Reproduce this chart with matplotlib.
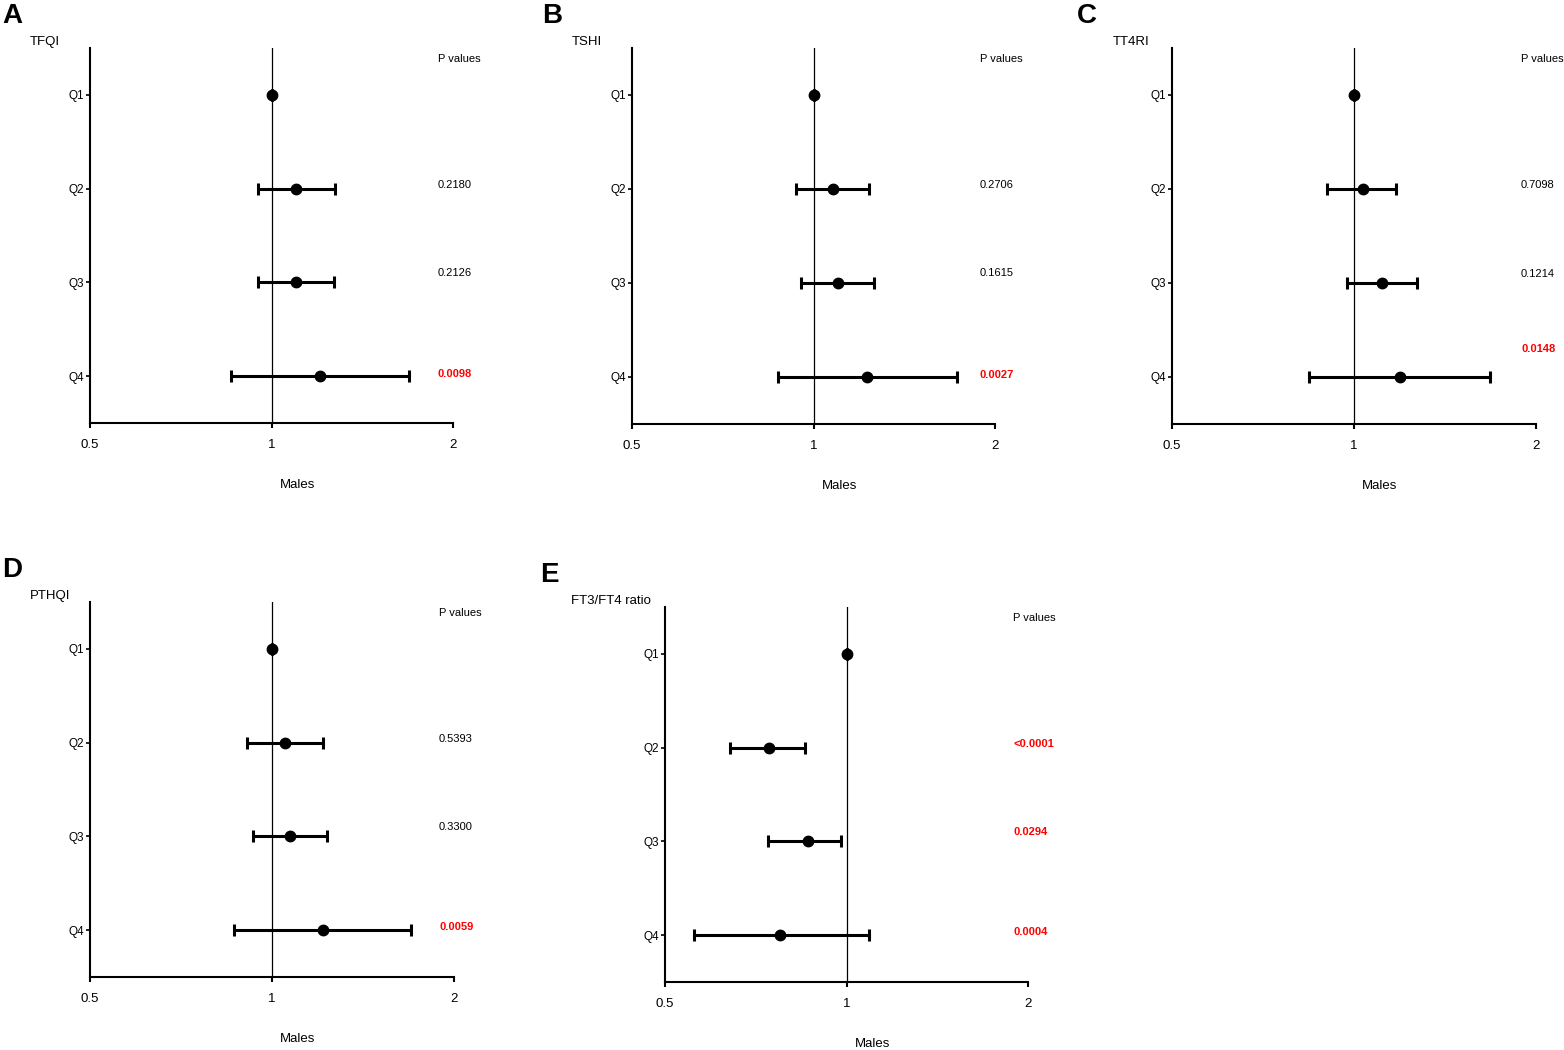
import matplotlib
matplotlib.use("Agg")
import matplotlib.pyplot as plt
from matplotlib.ticker import FixedLocator, NullLocator

plt.rcParams["font.family"] = ["Liberation Sans", "DejaVu Sans"]

quartiles = ["Q1", "Q2", "Q3", "Q4"]

# odds ratio with 95% CI, males
tfqi_or = [1.0, 1.096, 1.096, 1.205]
tfqi_lo = [1.0, 0.948, 0.948, 0.856]
tfqi_hi = [1.0, 1.276, 1.270, 1.690]
tfqi_p = ["", "0.2180", "0.2126", "0.0098"]

tshi_or = [1.0, 1.079, 1.096, 1.228]
tshi_lo = [1.0, 0.937, 0.955, 0.872]
tshi_hi = [1.0, 1.238, 1.260, 1.730]
tshi_p = ["", "0.2706", "0.1615", "0.0027"]

tt4ri_or = [1.0, 1.035, 1.112, 1.191]
tt4ri_lo = [1.0, 0.902, 0.973, 0.843]
tt4ri_hi = [1.0, 1.173, 1.271, 1.678]
tt4ri_p = ["", "0.7098", "0.1214", "0.0148"]

pthqi_or = [1.0, 1.050, 1.071, 1.214]
pthqi_lo = [1.0, 0.909, 0.930, 0.865]
pthqi_hi = [1.0, 1.214, 1.233, 1.700]
pthqi_p = ["", "0.5393", "0.3300", "0.0059"]

ratio_or = [1.0, 0.743, 0.862, 0.777]
ratio_lo = [1.0, 0.641, 0.740, 0.558]
ratio_hi = [1.0, 0.852, 0.981, 1.090]
ratio_p = ["", "<0.0001", "0.0294", "0.0004"]

W, H = 1564, 1050

# letter, title, data, axes box in px (left, top, right, bottom), title x, letter x, p-text y nudges
panels = [
    ("A", "TFQI", tfqi_or, tfqi_lo, tfqi_hi, tfqi_p, (90, 48, 453, 423), 30, 2, [0, -0.04, -0.10, -0.02]),
    ("B", "TSHI", tshi_or, tshi_lo, tshi_hi, tshi_p, (632, 48, 995, 424), 572, 542, [0, -0.04, -0.11, -0.02]),
    ("C", "TT4RI", tt4ri_or, tt4ri_lo, tt4ri_hi, tt4ri_p, (1172, 48, 1536, 424), 1113, 1077, [0, -0.04, -0.10, -0.30]),
    ("D", "PTHQI", pthqi_or, pthqi_lo, pthqi_hi, pthqi_p, (90, 602, 454, 977), 30, 2, [0, -0.04, -0.10, -0.03]),
    ("E", "FT3/FT4 ratio", ratio_or, ratio_lo, ratio_hi, ratio_p, (665, 607, 1028, 982), 571, 540, [0, -0.04, -0.10, -0.03]),
]

fig = plt.figure(figsize=(W / 100, H / 100), dpi=100)

for letter, title, orr, lo, hi, pv, box, tx, lx, nudge in panels:
    l, t, r, b = box
    ax = fig.add_axes([l / W, 1 - b / H, (r - l) / W, (b - t) / H])
    ypos = list(range(1, len(quartiles) + 1))
    xerr = [[o - a for o, a in zip(orr, lo)], [c - o for o, c in zip(orr, hi)]]
    ax.axvline(1, color="black", lw=0.9, zorder=1)
    ax.errorbar(orr, ypos, xerr=xerr, fmt="o", color="black", ms=7.5,
                elinewidth=2.2, capsize=4.3, capthick=2.2, zorder=3)
    ax.set_xscale("log", base=2)
    ax.set_xlim(0.5, 2)
    ax.set_ylim(4.5, 0.5)
    ax.xaxis.set_major_locator(FixedLocator([0.5, 1, 2]))
    ax.xaxis.set_minor_locator(NullLocator())
    ax.set_xticklabels(["0.5", "1", "2"])
    ax.set_yticks(ypos)
    ax.set_yticklabels(quartiles)
    for s in ["top", "right"]:
        ax.spines[s].set_visible(False)
    for s in ["left", "bottom"]:
        ax.spines[s].set_linewidth(1.5)
    ax.tick_params(axis="x", length=3.6, width=1.5, labelsize=9.5, pad=8)
    ax.tick_params(axis="y", length=3, width=1.2, labelsize=8.5, pad=1.5)

    ax.text(208 / (r - l), -62 / (b - t), "Males", transform=ax.transAxes,
            ha="center", va="center", fontsize=9.5)

    tr = ax.get_yaxis_transform()
    xt = 1 - 15 / (r - l)
    ax.text(xt, 0.62, "P values", transform=tr, ha="left", va="center", fontsize=8)
    for y, p, dy in zip(ypos, pv, nudge):
        if not p:
            continue
        sig = p.startswith("<") or float(p) < 0.05
        ax.text(xt, y + dy, p, transform=tr, ha="left", va="center", fontsize=8,
                color="red" if sig else "black", fontweight="bold" if sig else "normal")

    fig.text(tx / W, 1 - (t - 6) / H, title, ha="left", va="center", fontsize=9.5)
    fig.text(lx / W, 1 - (t - 32) / H, letter, ha="left", va="center", fontsize=20, fontweight="bold")

fig.savefig("out.png", dpi=100, facecolor="white")
